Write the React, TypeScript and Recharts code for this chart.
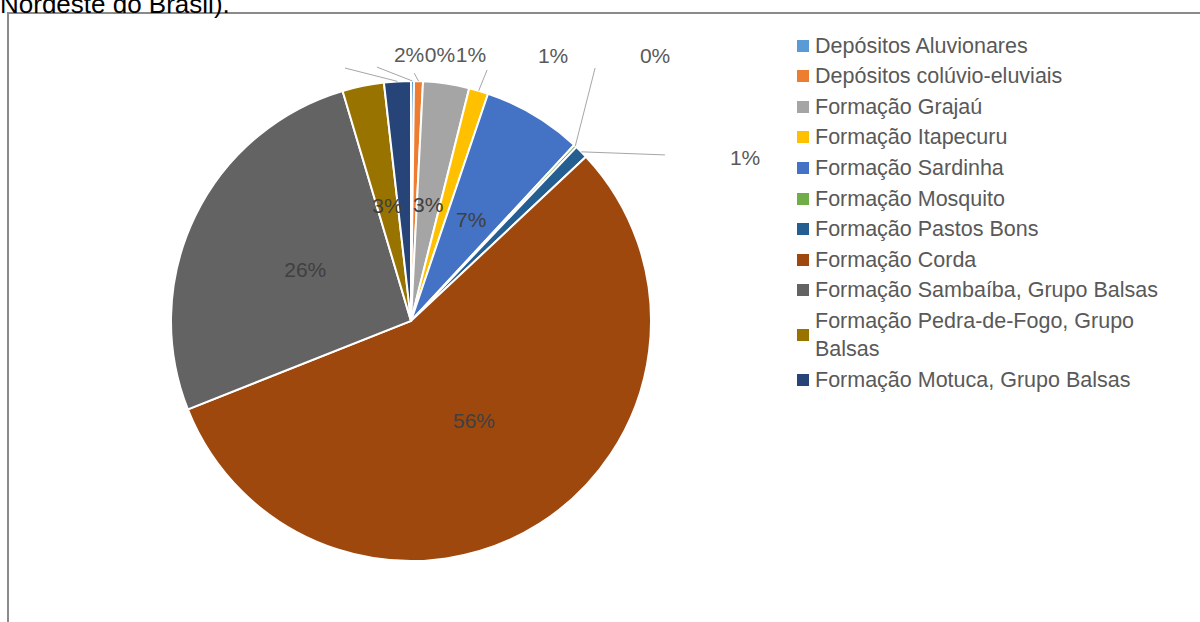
import React from 'react';
import { PieChart, Pie, Cell, Legend } from 'recharts';

const NAMES = [
  'Depósitos Aluvionares',
  'Depósitos colúvio-eluviais',
  'Formação Grajaú',
  'Formação Itapecuru',
  'Formação Sardinha',
  'Formação Mosquito',
  'Formação Pastos Bons',
  'Formação Corda',
  'Formação Sambaíba, Grupo Balsas',
  'Formação Pedra-de-Fogo, Grupo Balsas',
  'Formação Motuca, Grupo Balsas',
];

// area share (%) of each unit
const SHARES = [0.2, 0.6, 3.1, 1.3, 6.7, 0.2, 0.9, 56.0, 26.4, 2.8, 1.8];

const COLORS = [
  '#5B9BD5', '#ED7D31', '#A5A5A5', '#FFC000', '#4472C4', '#70AD47',
  '#255E91', '#9E480E', '#636363', '#997300', '#264478',
];

const data = NAMES.map((name, i) => ({ name, value: SHARES[i] }));
const total = SHARES.reduce((a, b) => a + b, 0);

const FONT = '"Liberation Sans", Arial, sans-serif';
const RAD = Math.PI / 180;

// excel-like placement of the small slice labels, in units of the radius
// (t = text centre, l = where the leader line ends)
const OUTSIDE: Record<number, { tx: number; ty: number; lx: number; ly: number }> = {
  0: { tx: 0.121, ty: -1.112, lx: -0.142, ly: -1.058 },
  1: { tx: 0.25, ty: -1.112, lx: 0.013, ly: -1.033 },
  3: { tx: 0.592, ty: -1.108, lx: 0.317, ly: -1.046 },
  5: { tx: 1.017, ty: -1.108, lx: 0.767, ly: -1.054 },
  6: { tx: 1.392, ty: -0.683, lx: 1.058, ly: -0.692 },
  10: { tx: -0.008, ty: -1.112, lx: -0.275, ly: -1.054 },
};

const renderLabel = (props: any) => {
  const { cx, cy, midAngle, outerRadius, index, value } = props;
  const pct = `${Math.round((value / total) * 100)}%`;
  const cos = Math.cos(-midAngle * RAD);
  const sin = Math.sin(-midAngle * RAD);
  const o = OUTSIDE[index];
  if (o) {
    const sx = cx + outerRadius * cos;
    const sy = cy + outerRadius * sin;
    return (
      <g key={`lbl-${index}`}>
        <line x1={sx} y1={sy} x2={cx + o.lx * outerRadius} y2={cy + o.ly * outerRadius} stroke="#a6a6a6" strokeWidth={1} />
        <text x={cx + o.tx * outerRadius} y={cy + o.ty * outerRadius} fill="#595959" fontSize={21} fontFamily={FONT}
          textAnchor="middle" dominantBaseline="central">
          {pct}
        </text>
      </g>
    );
  }
  const r = outerRadius * 0.49;
  return (
    <text key={`lbl-${index}`} x={cx + r * cos} y={cy + r * sin} fill="#404040" fontSize={21} fontFamily={FONT}
      textAnchor="middle" dominantBaseline="central">
      {pct}
    </text>
  );
};

const renderLegend = () => (
  <ul style={{ listStyle: 'none', margin: 0, padding: 0, fontFamily: FONT, fontSize: 21.5, color: '#595959' }}>
    {NAMES.map((name, i) => (
      <li key={name} style={{ display: 'flex', alignItems: 'center', lineHeight: '28px', marginBottom: 2.6 }}>
        <span style={{ width: 12, height: 12, background: COLORS[i], marginRight: 6, flex: '0 0 auto' }} />
        <span style={{ maxWidth: 360 }}>{name}</span>
      </li>
    ))}
  </ul>
);

export default function App() {
  return (
    <div style={{ position: 'fixed', left: 0, top: 0, width: 1200, height: 622, overflow: 'hidden', background: '#fff' }}>
      <div style={{ position: 'absolute', left: 7, top: 12, width: 1300, height: 700, border: '2px solid #8a8a8a', background: '#fff' }} />
      <div style={{ position: 'absolute', left: 0, top: -6, fontFamily: FONT, fontSize: 26, lineHeight: '21px', color: '#000', whiteSpace: 'nowrap' }}>
        Nordeste do Brasil).
      </div>
      <div style={{ position: 'absolute', left: 10, top: 14 }}>
        <PieChart width={1190} height={608} margin={{ top: 0, right: 0, bottom: 0, left: 0 }}>
          <Pie
            data={data}
            dataKey="value"
            nameKey="name"
            cx={401}
            cy={307}
            outerRadius={240}
            startAngle={90}
            endAngle={-270}
            stroke="#fff"
            strokeWidth={2}
            label={renderLabel}
            labelLine={false}
            isAnimationActive={false}
          >
            {data.map((d, i) => (
              <Cell key={d.name} fill={COLORS[i]} />
            ))}
          </Pie>
          <Legend
            layout="vertical"
            align="right"
            verticalAlign="top"
            content={renderLegend}
            wrapperStyle={{ left: 787, top: 17.6, width: 390 }}
          />
        </PieChart>
      </div>
    </div>
  );
}
